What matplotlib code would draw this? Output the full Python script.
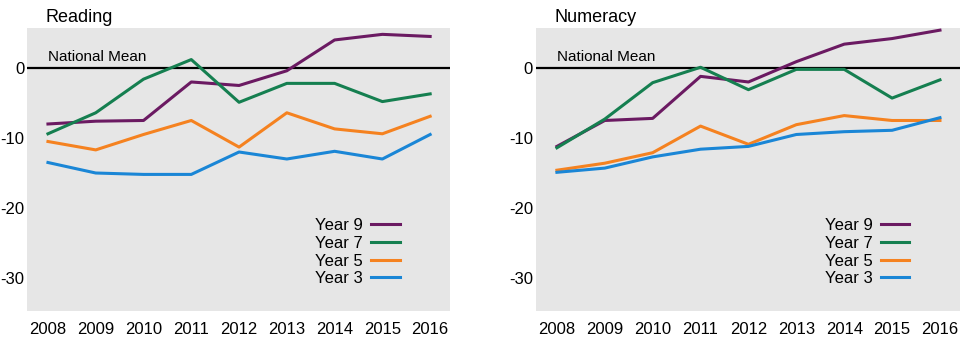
import matplotlib
matplotlib.use("Agg")
import matplotlib.pyplot as plt

plt.rcParams['font.family'] = ['Liberation Sans', 'DejaVu Sans']
plt.rcParams['axes.unicode_minus'] = False

years = [2008, 2009, 2010, 2011, 2012, 2013, 2014, 2015, 2016]

# Reading
reading_y9 = [-8.0, -7.6, -7.5, -2.0, -2.5, -0.4, 4.0, 4.8, 4.5]
reading_y7 = [-9.4, -6.4, -1.6, 1.2, -4.9, -2.2, -2.2, -4.8, -3.7]
reading_y5 = [-10.5, -11.7, -9.5, -7.5, -11.3, -6.4, -8.7, -9.4, -6.9]
reading_y3 = [-13.5, -15.0, -15.2, -15.2, -12.0, -13.0, -11.9, -13.0, -9.5]

# Numeracy
numeracy_y9 = [-11.2, -7.5, -7.2, -1.2, -2.0, 0.9, 3.4, 4.2, 5.4]
numeracy_y7 = [-11.4, -7.3, -2.1, 0.1, -3.1, -0.2, -0.2, -4.3, -1.7]
numeracy_y5 = [-14.6, -13.6, -12.1, -8.3, -10.9, -8.1, -6.8, -7.5, -7.5]
numeracy_y3 = [-14.9, -14.3, -12.7, -11.6, -11.2, -9.5, -9.1, -8.9, -7.1]

labels = ['Year 9', 'Year 7', 'Year 5', 'Year 3']
colors = ['#6b1a62', '#157f50', '#f58220', '#1a86d6']


def panel(ax, title, series):
    ax.set_facecolor('#e6e6e6')
    ax.axhline(0, color='black', lw=1.6, zorder=1)
    for vals, lab, col in zip(series, labels, colors):
        ax.plot(years, vals, color=col, lw=2.2, label=lab, zorder=2)
    ax.text(2008, 0.5, 'National Mean', fontsize=11, va='bottom', ha='left')
    ax.set_xlim(2007.56, 2016.42)
    ax.set_ylim(-34.7, 5.7)
    ax.set_xticks(years)
    ax.set_yticks([0, -10, -20, -30])
    ax.tick_params(length=0, labelsize=12)
    ax.tick_params(axis='x', pad=8)
    ax.tick_params(axis='y', pad=2)
    for s in ax.spines.values():
        s.set_visible(False)
    ax.set_title(title, loc='left', fontsize=13, x=0.045, pad=4)
    ax.legend(loc='lower right', bbox_to_anchor=(0.9, 0.058), frameon=False,
              markerfirst=False, fontsize=12, handlelength=1.7,
              labelspacing=0.16, handletextpad=0.5, borderpad=0)


fig = plt.figure(figsize=(9.62, 3.38), dpi=100)
ax1 = fig.add_axes([0.028, 0.080, 0.440, 0.837])
ax2 = fig.add_axes([0.557, 0.080, 0.441, 0.837])
panel(ax1, 'Reading', [reading_y9, reading_y7, reading_y5, reading_y3])
panel(ax2, 'Numeracy', [numeracy_y9, numeracy_y7, numeracy_y5, numeracy_y3])

fig.savefig('out.png', dpi=100)
